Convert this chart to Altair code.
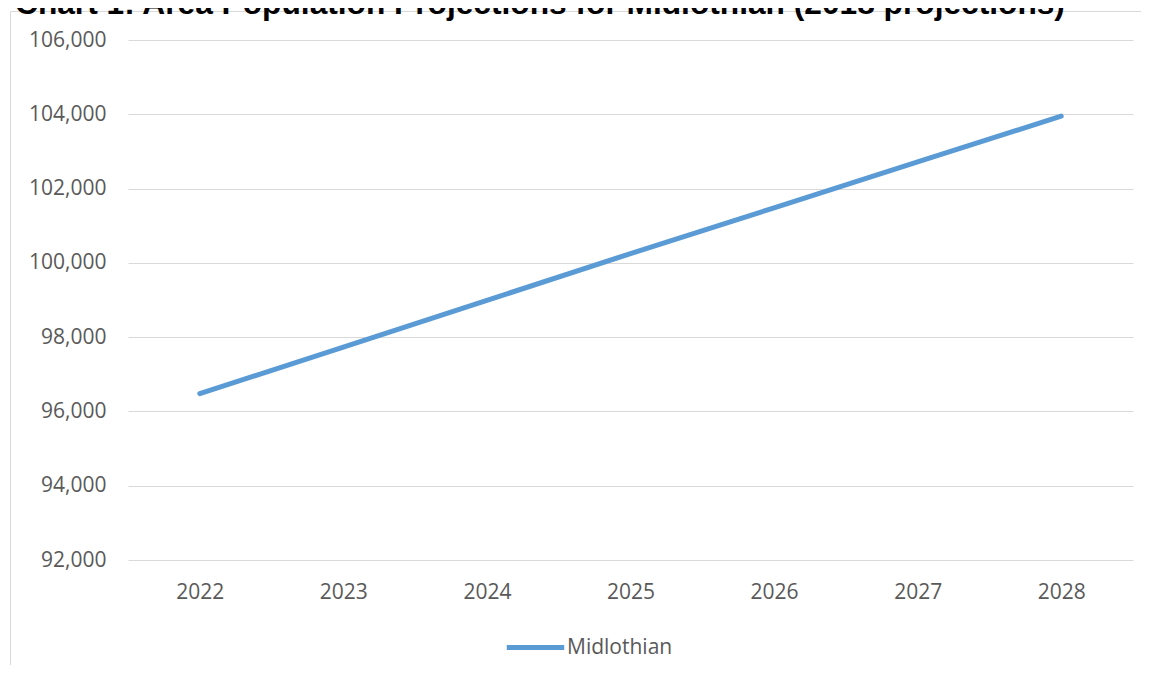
import altair as alt
import pandas as pd

# ---- data ----
years = ["2022", "2023", "2024", "2025", "2026", "2027", "2028"]
population = [96480, 97730, 98990, 100250, 101480, 102720, 103950]
area_name = "Midlothian"
y_ticks = [92000, 94000, 96000, 98000, 100000, 102000, 104000, 106000]
title_text = "Chart 1: Area Population Projections for Midlothian (2018 projections)"

df = pd.DataFrame({"Year": years, "Population": population, "Area": [area_name] * len(years)})
title_df = pd.DataFrame({"t": [title_text]})

FONT = "Open Sans"
GREY = "#595959"
BLUE = "#5B9BD5"
GRID = "#D9D9D9"

line = alt.Chart(df).mark_line(strokeWidth=5, strokeCap="round", strokeJoin="round").encode(
    x=alt.X(
        "Year:O",
        scale=alt.Scale(type="point", padding=0.5),
        axis=alt.Axis(
            title=None, labelAngle=0, domain=False, ticks=False, grid=False,
            labelPadding=21, labelFont=FONT, labelFontSize=21, labelColor=GREY,
        ),
    ),
    y=alt.Y(
        "Population:Q",
        scale=alt.Scale(domain=[92000, 106000], nice=False, zero=False),
        axis=alt.Axis(
            title=None, values=y_ticks, format=",d", domain=False, ticks=False,
            grid=True, gridColor=GRID, gridWidth=1,
            labelPadding=22, labelFont=FONT, labelFontSize=21, labelColor=GREY,
        ),
    ),
    color=alt.Color(
        "Area:N",
        scale=alt.Scale(range=[BLUE]),
        legend=alt.Legend(
            title=None, orient="none", legendX=376, legendY=576,
            symbolType="stroke", symbolSize=3300, symbolStrokeWidth=5,
            labelFont=FONT, labelFontSize=21, labelColor=GREY, labelOffset=0,
            padding=0,
        ),
    ),
)

frame = alt.Chart(title_df).mark_rect(fillOpacity=0, stroke=GRID, strokeWidth=1).encode(
    x=alt.value(-117.5), y=alt.value(-28.5), x2=alt.value(2000), y2=alt.value(2000)
)

title = alt.Chart(title_df).mark_text(
    font="Liberation Sans", fontSize=31.7, fontWeight="bold", color="#000000",
    align="left", baseline="alphabetic",
).encode(text="t:N", x=alt.value(-113), y=alt.value(-26))

chart = alt.layer(frame, line, title).properties(
    width=1005,
    height=520,
    padding={"left": 120, "top": 32, "right": 8, "bottom": 105},
    autosize=alt.AutoSizeParams(type="none"),
    background="white",
).configure_view(stroke=None)

chart.save("out.html", embed_options={"renderer": "svg", "actions": False})
